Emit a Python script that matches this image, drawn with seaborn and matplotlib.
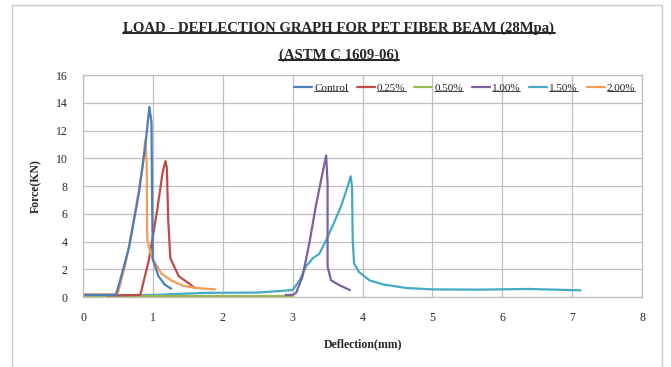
import pandas as pd
import seaborn as sns
import matplotlib.pyplot as plt
from matplotlib.lines import Line2D

# Load - deflection curves (deflection mm, force kN)
control_x = [0.0, 0.47, 0.52, 0.66, 0.80, 0.89, 0.95, 0.98, 0.99, 1.00, 1.08, 1.17, 1.26]
control_y = [0.15, 0.15, 1.0, 3.6, 7.5, 10.8, 13.7, 12.6, 6.3, 2.7, 1.5, 0.9, 0.6]

p025_x = [0.35, 0.82, 0.94, 1.06, 1.14, 1.18, 1.20, 1.22, 1.25, 1.37, 1.51, 1.60]
p025_y = [0.1, 0.15, 2.6, 6.2, 9.0, 9.8, 9.3, 5.5, 2.8, 1.5, 1.0, 0.65]

p050_x = [0.0, 1.0, 2.0, 3.0]
p050_y = [0.05, 0.05, 0.05, 0.05]

p100_x = [2.9, 3.0, 3.05, 3.14, 3.24, 3.33, 3.43, 3.48, 3.50, 3.50, 3.55, 3.67, 3.82]
p100_y = [0.15, 0.15, 0.3, 1.45, 3.9, 6.5, 9.0, 10.2, 8.2, 2.2, 1.2, 0.85, 0.5]

p150_x = [0.0, 1.0, 1.76, 2.5, 3.0, 3.1, 3.19, 3.29, 3.38, 3.48, 3.57, 3.69, 3.79, 3.83,
          3.85, 3.86, 3.88, 3.95, 4.1, 4.3, 4.63, 5.0, 5.67, 6.38, 7.12]
p150_y = [0.1, 0.15, 0.3, 0.32, 0.5, 1.2, 2.2, 2.8, 3.1, 4.1, 5.1, 6.5, 8.0, 8.7,
          8.0, 4.1, 2.4, 1.8, 1.2, 0.9, 0.65, 0.55, 0.53, 0.58, 0.48]

p200_x = [0.0, 0.47, 0.50, 0.61, 0.75, 0.85, 0.89, 0.91, 0.92, 0.98, 1.12, 1.26, 1.44, 1.63, 1.89]
p200_y = [0.2, 0.2, 0.3, 2.4, 6.2, 9.3, 11.3, 9.8, 4.1, 2.9, 1.7, 1.2, 0.8, 0.65, 0.55]

series = ["Control", "0.25%", "0.50%", "1.00%", "1.50%", "2.00%"]
colors = ["#4A7EBB", "#BE4B48", "#98B954", "#7D60A0", "#46AAC5", "#F59D56"]
xs = [control_x, p025_x, p050_x, p100_x, p150_x, p200_x]
ys = [control_y, p025_y, p050_y, p100_y, p150_y, p200_y]

frames = []
for name, x, y in zip(series, xs, ys):
    frames.append(pd.DataFrame({"Deflection": x, "Force": y, "Mix": name}))
df = pd.concat(frames, ignore_index=True)

sns.set_style("white")
plt.rcParams["font.family"] = ["Liberation Serif", "DejaVu Serif"]

fig = plt.figure(figsize=(6.71, 3.67), dpi=100)
ax = fig.add_axes([0.1237, 0.1907, 0.8331, 0.6049])

# draw order: cyan underneath, control on top
order = ["1.50%", "0.50%", "1.00%", "0.25%", "2.00%", "Control"]
for name in order:
    sub = df[df["Mix"] == name]
    sns.lineplot(data=sub, x="Deflection", y="Force", sort=False, estimator=None,
                 color=colors[series.index(name)], linewidth=1.6, ax=ax, legend=False)

ax.set_xlim(0, 8)
ax.set_ylim(0, 16)
ax.set_xticks(range(0, 9))
ax.set_yticks(range(0, 17, 2))
ax.grid(True, color="#BFBFBF", linewidth=0.9)
for s in ax.spines.values():
    s.set_color("#BFBFBF")
    s.set_linewidth(0.9)
ax.tick_params(axis="both", length=3, color="#9A9A9A", labelsize=8.5, pad=8)
ax.set_xlabel("Deflection(mm)", fontsize=8.5, fontweight="bold", labelpad=10)
ax.set_ylabel("Force(KN)", fontsize=8.5, fontweight="bold", labelpad=10)

handles = [Line2D([], [], color=c, linewidth=1.6) for c in colors]
leg = ax.legend(handles, series, loc="upper right", bbox_to_anchor=(1.0, 0.995), ncol=6,
                frameon=False, fontsize=8, handlelength=1.6, handletextpad=0.2,
                columnspacing=0.8, borderaxespad=0.2)

# outer chart frame
fig.patches.append(plt.Rectangle((12 / 671, -0.05), (662 - 12) / 671, 1 - 5 / 367 + 0.05,
                                 transform=fig.transFigure, fill=False,
                                 edgecolor="#C8C8C8", linewidth=1.0))

t1 = fig.text(339 / 671, 1 - 28 / 367, "LOAD - DEFLECTION GRAPH FOR PET FIBER BEAM (28Mpa)",
              ha="center", va="center", fontsize=10.6, fontweight="bold")
t2 = fig.text(339 / 671, 1 - 55 / 367, "(ASTM C 1609-06)",
              ha="center", va="center", fontsize=10.6, fontweight="bold")


def underline(texts, width):
    fig.canvas.draw()
    r = fig.canvas.get_renderer()
    inv = fig.transFigure.inverted()
    for t in texts:
        bb = t.get_window_extent(r)
        (x0, y0), (x1, y1) = inv.transform([[bb.x0, bb.y0], [bb.x1, bb.y1]])
        yy = y0 + 0.004
        fig.add_artist(Line2D([x0, x1], [yy, yy], transform=fig.transFigure,
                              color="#222222", linewidth=width))


underline([t1, t2], 1.4)
underline(leg.get_texts(), 0.6)

fig.savefig("out.png", dpi=100)
